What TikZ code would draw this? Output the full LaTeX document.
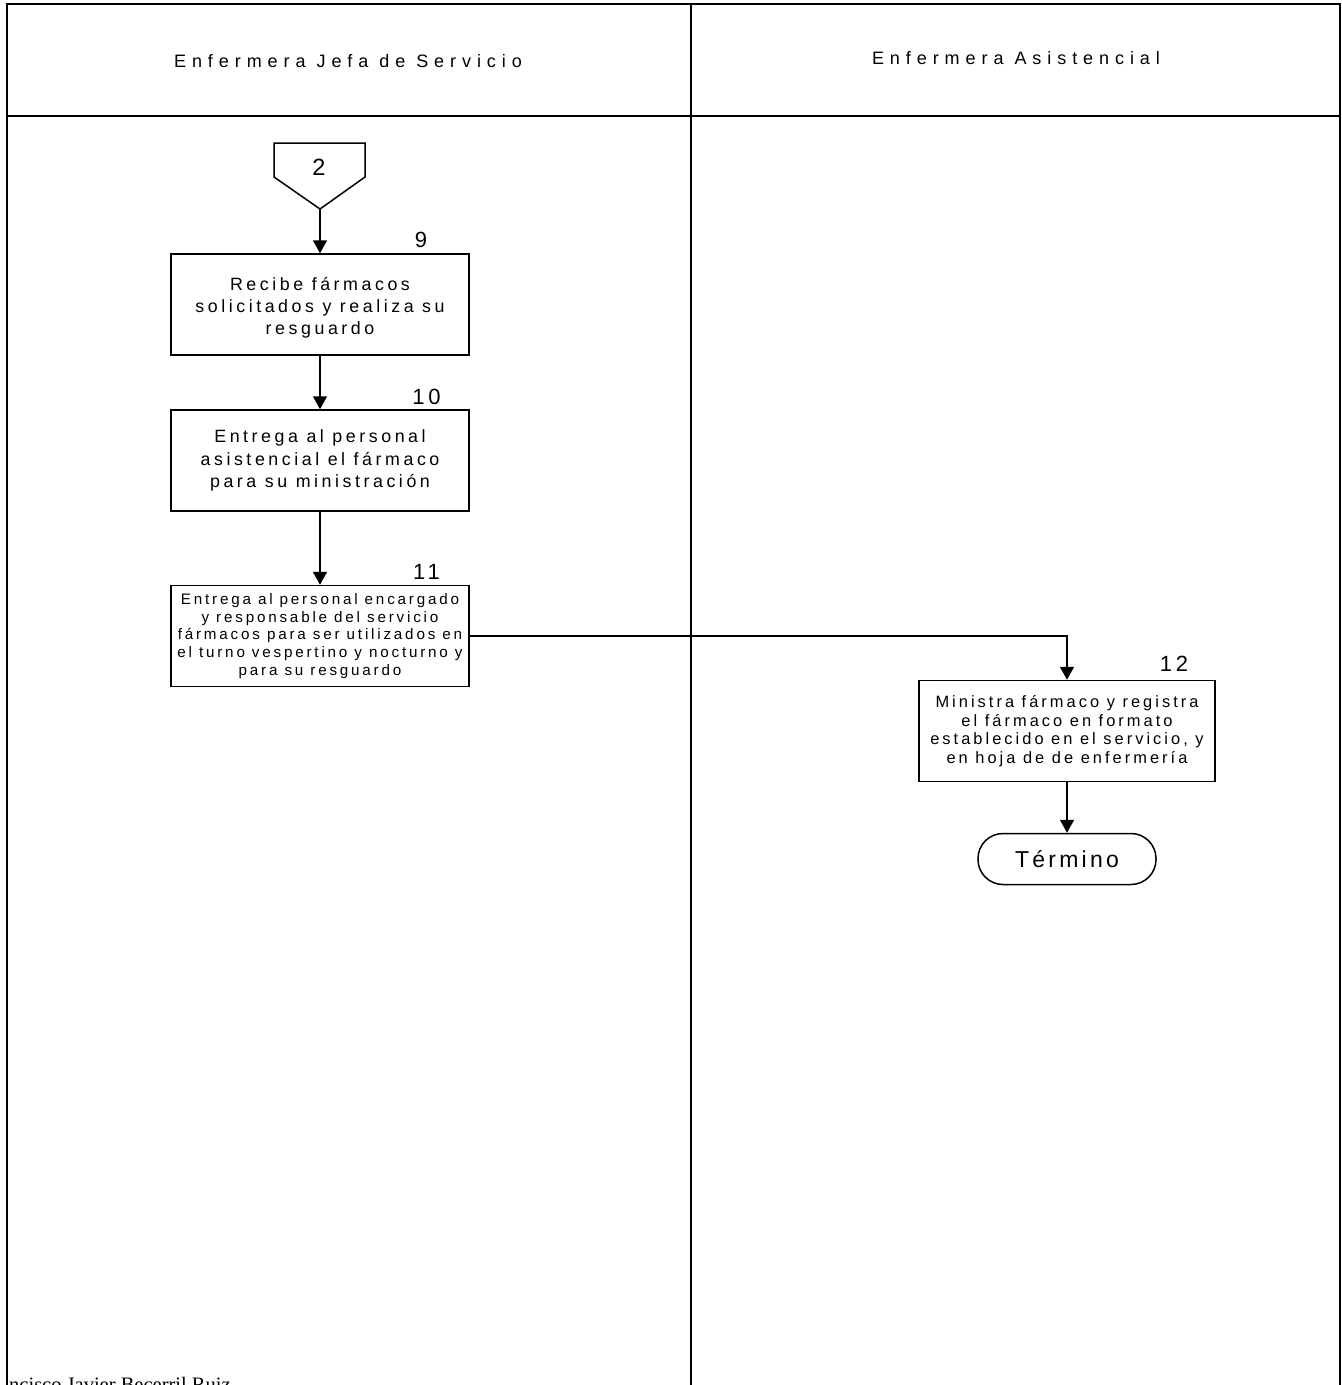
\documentclass[tikz,border=0pt]{standalone}
\usepackage{fontspec}
\setmainfont{Liberation Sans}
\newfontfamily\headfont[LetterSpace=33]{Liberation Sans}
\newfontfamily\stepfont[LetterSpace=20]{Liberation Sans}
\newfontfamily\smallstepfont[LetterSpace=18.5]{Liberation Sans}
\newfontfamily\endfont[LetterSpace=14]{Liberation Sans}
\newfontfamily\numfont[LetterSpace=18]{Liberation Sans}
\newfontfamily\signfont{Liberation Serif}
\usetikzlibrary{arrows.meta}

\begin{document}
\begin{tikzpicture}[x=1pt,y=-1pt,
  frame/.style={line width=1.6pt},
  lanetitle/.style={font=\headfont\fontsize{18}{22}\selectfont},
  stepbox/.style={draw, line width=1.5pt, minimum width=298pt, minimum height=101pt,
    inner sep=0pt, align=center},
  bigtext/.style={font=\stepfont\fontsize{17.8}{22.3}\selectfont},
  numlabel/.style={font=\numfont\fontsize{22}{26}\selectfont, inner sep=0pt},
  flow/.style={line width=1.6pt, -{Triangle[length=13pt,width=14pt]}}
]
\clip (0,0) rectangle (1342,1385);

% swimlane frame
\draw[frame] (7,1395) -- (7,4) -- (1340,4) -- (1340,1395);
\draw[frame] (691,4) -- (691,1395);
\draw[frame] (7,116) -- (1340,116);

% lane titles
\node[lanetitle] (laneA) at (348,61) {Enfermera Jefa de Servicio};
\node[lanetitle] (laneB) at (1016,58) {Enfermera Asistencial};

% off-page connector
\draw[line width=1.5pt] (274,143) -- (365,143) -- (365,177) -- (320,209) -- (274,177) -- cycle;
\coordinate (opc) at (320,209);
\node[font=\fontsize{23.5}{28}\selectfont, inner sep=0pt] (opcnum) at (319,167) {2};

% steps
\node[stepbox, bigtext] (s9) at (320,304.5)
  {\rule{0pt}{20pt}Recibe fármacos\\solicitados y realiza su\\resguardo};
\node[numlabel] (n9) at (421,240) {9};

\node[stepbox, bigtext] (s10) at (320,460.5)
  {Entrega al personal\\asistencial el fármaco\\para su ministración};
\node[numlabel] (n10) at (426.5,397) {10};

\node[stepbox, font=\smallstepfont\fontsize{15.2}{17.6}\selectfont] (s11) at (320,636)
  {Entrega al personal encargado\\y responsable del servicio\\fármacos para ser utilizados en\\el turno vespertino y nocturno y\\para su resguardo};
\node[numlabel] (n11) at (426.5,572) {11};

\node[stepbox, minimum width=296pt, font=\smallstepfont\fontsize{16.4}{18.6}\selectfont] (s12) at (1067,731)
  {Ministra fármaco y registra\\el fármaco en formato\\establecido en el servicio, y\\en hoja de de enfermería};
\node[numlabel] (n12) at (1174,664) {12};

\node[draw, line width=1.5pt, rounded corners=25pt, minimum width=178pt, minimum height=51pt,
  font=\endfont\fontsize{23}{27}\selectfont] (fin) at (1067,859) {Término};

% connectors
\draw[flow] (opc) -- (s9.north);
\draw[flow] (s9.south) -- (s10.north);
\draw[flow] (s10.south) -- (s11.north);
\draw[flow] (s11.east) -| (s12.north);
\draw[flow] (s12.south) -- (fin.north);

% footer signature
\node[anchor=base west, inner sep=0pt, font=\signfont\fontsize{20.5}{24}\selectfont] (author)
  at (9,1391) {ncisco Javier Becerril Ruiz};
\end{tikzpicture}
\end{document}
